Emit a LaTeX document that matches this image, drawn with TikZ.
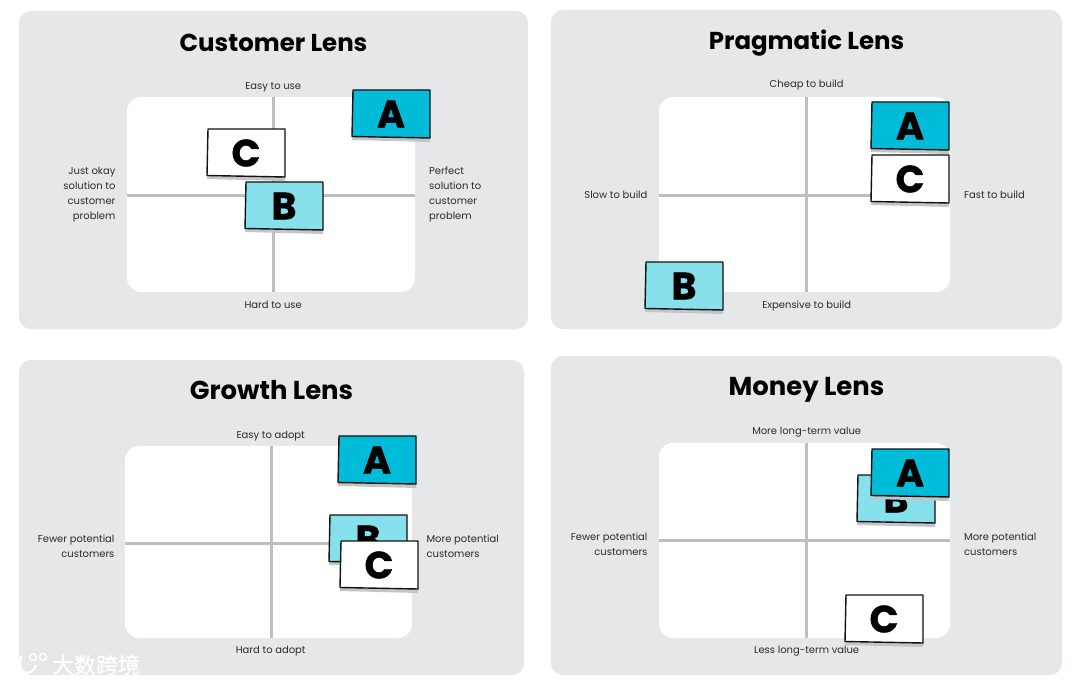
\documentclass[tikz,border=0pt]{standalone}
\usepackage{fontspec}
\usepackage{xcolor}
\usepackage{tikz}
\usetikzlibrary{positioning}
\setmainfont{Poppins}
\newfontfamily\cjkmark{Noto Sans CJK SC}
\definecolor{panelgray}{HTML}{E6E7E8}
\definecolor{axisgray}{HTML}{BDBEC0}
\definecolor{shadowgray}{HTML}{C4C5C7}
\definecolor{cardA}{HTML}{00BCD9}
\definecolor{cardB}{HTML}{86E1EC}
\definecolor{inkblack}{HTML}{111111}
\definecolor{labelgray}{HTML}{2B2B2B}
% name, left x, top y, fill, letter
\newcommand{\lenscard}[5]{%
  \fill[shadowgray] (#2+1,#3+6) -- (#2+78,#3+6) -- (#2+78,#3+52) -- (#2,#3+50) -- cycle;
  \draw[cardline,fill=#4] (#2+1,#3) -- (#2+78,#3) -- (#2+78,#3+48) -- (#2,#3+46.5) -- cycle;
  \node[cardletter] (#1) at (#2+39,#3+24) {#5};}

\begin{document}
\begin{tikzpicture}[x=0.25mm,y=-0.25mm,
  panel/.style={fill=panelgray,rounded corners=3mm,inner sep=0},
  plotbox/.style={fill=white,rounded corners=3.5mm,inner sep=0},
  axisline/.style={draw=axisgray,line width=0.75mm},
  lenstitle/.style={font=\bfseries\fontsize{17.4}{20}\selectfont,text=black,inner sep=0},
  widetitle/.style={font=\bfseries\fontsize{18.4}{20}\selectfont,text=black,inner sep=0},
  vlabel/.style={font=\fontsize{7.1}{10.7}\selectfont,text=labelgray,inner sep=0,
    text height=1.9mm,text depth=0.55mm,xshift=0.55mm},
  hlabel/.style={font=\fontsize{7.1}{10.7}\selectfont,text=labelgray,inner sep=0},
  cardline/.style={draw=inkblack,line width=0.35mm,line join=round},
  cardletter/.style={font=\bfseries\fontsize{27}{28}\selectfont\addfontfeature{FakeBold=1.2},text=black,inner sep=0}
]
\useasboundingbox (0,0) rectangle (1080,685);
\fill[white] (0,0) rectangle (1080,685);

\node[panel,minimum width=127.25mm,minimum height=79.5mm] (custpanel) at (273.5,170) {};
\node[panel,minimum width=127.75mm,minimum height=79.75mm] (pragpanel) at (806.5,169.5) {};
\node[panel,minimum width=126.25mm,minimum height=78.75mm] (growpanel) at (271.5,517.5) {};
\node[panel,minimum width=127.75mm,minimum height=79.75mm] (moneypanel) at (806.5,515.5) {};

\node[plotbox,minimum width=72mm,minimum height=48.75mm] (custplot) at (271,194.5) {};
\node[plotbox,minimum width=72.75mm,minimum height=48.75mm] (pragplot) at (804.5,194.5) {};
\node[plotbox,minimum width=71.75mm,minimum height=48mm] (growplot) at (268.5,542) {};
\node[plotbox,minimum width=72.75mm,minimum height=48.75mm] (moneyplot) at (804.5,540.5) {};

\draw[axisline] ([xshift=0.55mm]custplot.north) -- ([xshift=0.55mm]custplot.south);
\draw[axisline] ([yshift=-0.35mm]custplot.west) -- ([yshift=-0.35mm]custplot.east);
\draw[axisline] ([xshift=0.55mm]pragplot.north) -- ([xshift=0.55mm]pragplot.south);
\draw[axisline] ([yshift=-0.15mm]pragplot.west) -- ([yshift=-0.15mm]pragplot.east);
\draw[axisline] ([xshift=0.7mm]growplot.north) -- ([xshift=0.7mm]growplot.south);
\draw[axisline] ([yshift=-0.25mm]growplot.west) -- ([yshift=-0.25mm]growplot.east);
\draw[axisline] ([xshift=0.5mm]moneyplot.north) -- ([xshift=0.5mm]moneyplot.south);
\draw[axisline] ([yshift=-0.1mm]moneyplot.west) -- ([yshift=-0.1mm]moneyplot.east);

\node[lenstitle,below=5.8mm of custpanel.north] (custtitle) {Customer Lens};
\node[lenstitle,below=5mm of pragpanel.north] (pragtitle) {Pragmatic Lens};
\node[widetitle,below=5.2mm of growpanel.north] (growtitle) {Growth Lens};
\node[widetitle,below=5.4mm of moneypanel.north] (moneytitle) {Money Lens};

\node[vlabel,above=1.2mm of custplot] (custtop) {Easy to use};
\node[vlabel,below=2mm of custplot] (custbottom) {Hard to use};
\node[hlabel,align=right,left=2.75mm of custplot] (custleft) {Just okay\\solution to\\customer\\problem};
\node[hlabel,align=left,right=3.4mm of custplot] (custright) {Perfect\\solution to\\customer\\problem};

\node[vlabel,above=1.6mm of pragplot] (pragtop) {Cheap to build};
\node[vlabel,below=2mm of pragplot] (pragbottom) {Expensive to build};
\node[hlabel,left=2.75mm of pragplot] (pragleft) {Slow to build};
\node[hlabel,right=3.4mm of pragplot] (pragright) {Fast to build};

\node[vlabel,above=1.2mm of growplot] (growtop) {Easy to adopt};
\node[vlabel,below=1.9mm of growplot] (growbottom) {Hard to adopt};
\node[hlabel,align=right,left=2.5mm of growplot,yshift=-1mm] (growleft) {Fewer potential\\customers};
\node[hlabel,align=left,right=3.5mm of growplot,yshift=-1mm] (growright) {More potential\\customers};

\node[vlabel,above=1.4mm of moneyplot] (moneytop) {More long-term value};
\node[vlabel,below=1.9mm of moneyplot] (moneybottom) {Less long-term value};
\node[hlabel,align=right,left=2.75mm of moneyplot,yshift=-1mm] (moneyleft) {Fewer potential\\customers};
\node[hlabel,align=left,right=3.4mm of moneyplot,yshift=-1mm] (moneyright) {More potential\\customers};

\lenscard{custA}{352}{90}{cardA}{A}
\lenscard{custC}{207}{129}{white}{C}
\lenscard{custB}{245}{182}{cardB}{B}

\lenscard{pragB}{645}{262}{cardB}{B}
\lenscard{pragA}{871}{102}{cardA}{A}
\lenscard{pragC}{871}{155}{white}{C}

\lenscard{growA}{338}{436}{cardA}{A}
\lenscard{growB}{329}{515}{cardB}{B}
\lenscard{growC}{340}{541}{white}{C}

\lenscard{moneyB}{857}{475}{cardB}{B}
\lenscard{moneyA}{871}{449}{cardA}{A}
\lenscard{moneyC}{845}{595}{white}{C}

% watermark
\node[inner sep=0,text=white,font=\cjkmark\fontsize{15.6}{16}\selectfont\addfontfeature{FakeBold=0.6}] (mark) at (96,665) {大数跨境};
\draw[white,line width=0.6mm] (14,658) -- (14,673) (21,656) .. controls (18,668) and (22,674) .. (28,673) .. controls (32,672) and (35,669) .. (36,665);
\draw[white,line width=0.35mm] (33,657) circle[radius=3.5] (43,657) circle[radius=3.5];
\end{tikzpicture}
\end{document}
